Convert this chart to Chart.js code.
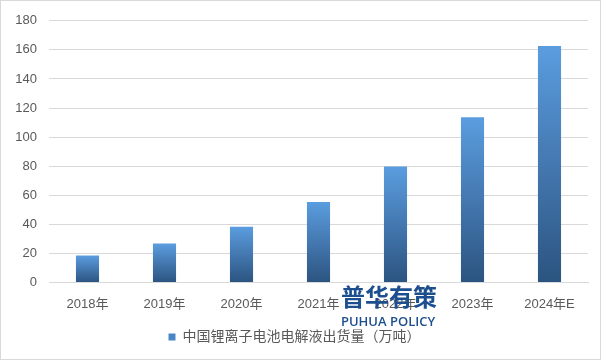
<!DOCTYPE html>
<html>
<head>
<meta charset="utf-8">
<script src="https://cdn.jsdelivr.net/npm/chart.js@4"></script>
<style>
  html, body { margin: 0; padding: 0; background: #fff; }
  #wrap { width: 599px; height: 358px; border: 1px solid #d9d9d9; position: relative; }
</style>
</head>
<body>
<div id="wrap"><canvas id="myChart"></canvas></div>
<script>
const years = ['2018年', '2019年', '2020年', '2021年', '2022年', '2023年', '2024年E'];
const shipments = [18.5, 26.7, 38.3, 55.4, 79.8, 113.6, 162.7];
const yTicks = [0, 20, 40, 60, 80, 100, 120, 140, 160, 180];
const seriesName = '中国锂离子电池电解液出货量（万吨）';

const fontFamily = '"Liberation Sans", "Noto Sans CJK SC", sans-serif';
const textColor = '#595959';

// gradient per bar, light blue at the top, dark at the bottom
function barColor(c) {
    const chart = c.chart;
    const y = chart.scales && chart.scales.y;
    if (!y || c.dataIndex === undefined) return '#4a86c5';
    const top = y.getPixelForValue(shipments[c.dataIndex]);
    const bottom = y.getPixelForValue(0);
    if (!isFinite(top) || !isFinite(bottom) || top === bottom) return '#4a86c5';
    const g = chart.ctx.createLinearGradient(0, top, 0, bottom);
    g.addColorStop(0, '#5a9ddf');
    g.addColorStop(0.5, '#4478b0');
    g.addColorStop(1, '#2b5480');
    return g;
}

const watermark = {
    id: 'watermark',
    afterDraw(chart) {
        const ctx = chart.ctx;
        ctx.save();
        ctx.fillStyle = '#1d4f8f';
        ctx.textAlign = 'center';
        ctx.textBaseline = 'middle';
        ctx.font = 'bold 24px "Noto Sans CJK SC", sans-serif';
        ctx.fillText('普华有策', 388, 296);
        ctx.font = '600 13px "Open Sans", "Liberation Sans", sans-serif';
        ctx.fillText('PUHUA POLICY', 387, 321);
        ctx.restore();
    }
};

var ctx = document.getElementById('myChart');
var myChart = new Chart(ctx, {
    type: 'bar',
    data: {
        labels: years,
        datasets: [{
            label: seriesName,
            data: shipments,
            backgroundColor: barColor,
            borderWidth: 0,
            barPercentage: 0.3,
            categoryPercentage: 1
        }]
    },
    options: {
        responsive: true,
        maintainAspectRatio: false,
        animation: false,
        layout: { padding: { left: 0, right: 12, top: 10, bottom: 5 } },
        plugins: {
            legend: {
                position: 'bottom',
                labels: {
                    boxWidth: 7,
                    boxHeight: 7,
                    color: textColor,
                    font: { family: fontFamily, size: 14 },
                    padding: 12,
                    generateLabels: chart => [{
                        text: seriesName,
                        fillStyle: '#4a86c5',
                        strokeStyle: '#4a86c5',
                        lineWidth: 0,
                        fontColor: textColor,
                        datasetIndex: 0
                    }]
                }
            },
            tooltip: { enabled: false }
        },
        scales: {
            x: {
                grid: { display: false },
                border: { color: '#d9d9d9' },
                ticks: { color: textColor, font: { family: fontFamily, size: 13 }, padding: 6 }
            },
            y: {
                min: 0,
                max: 180,
                afterBuildTicks: s => { s.ticks = yTicks.map(v => ({ value: v })); },
                afterFit: s => { s.width = 48; },
                grid: { color: '#d9d9d9', drawTicks: false },
                border: { display: false },
                ticks: { color: textColor, font: { family: fontFamily, size: 13 }, padding: 12 }
            }
        }
    },
    plugins: [watermark]
});
</script>
</body>
</html>
